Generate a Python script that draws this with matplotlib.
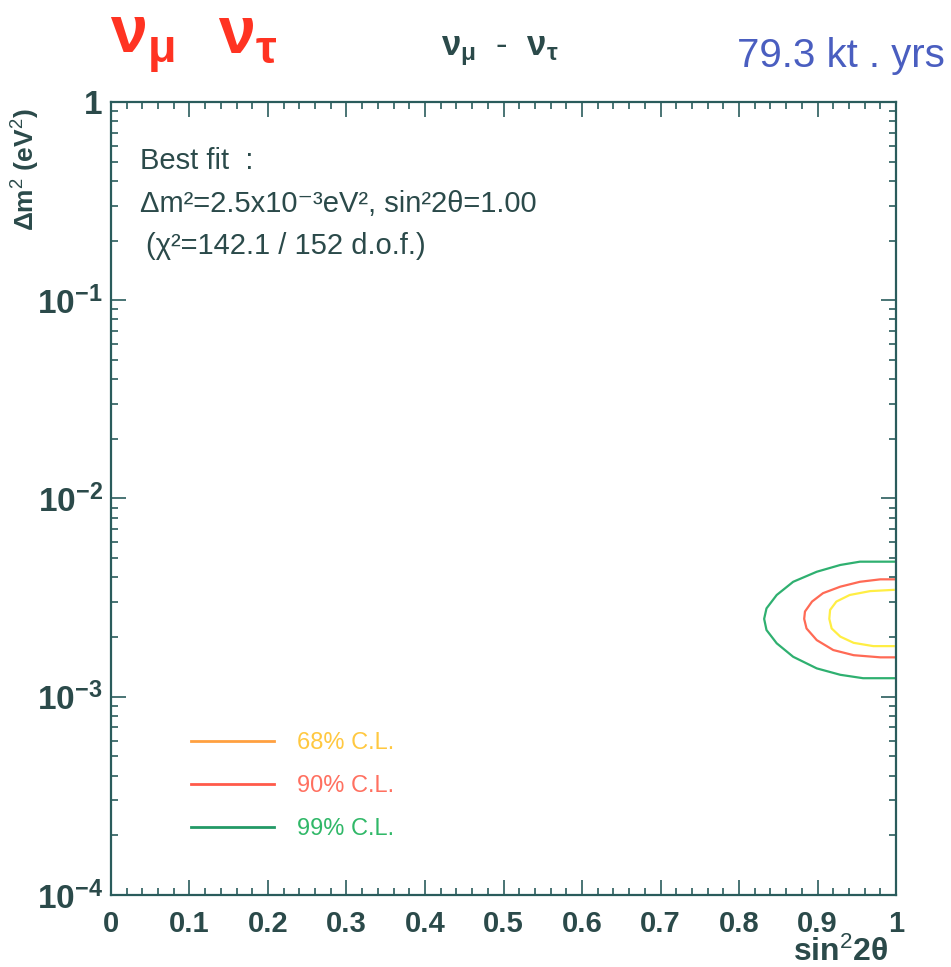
import math

import matplotlib
matplotlib.use("Agg")
import matplotlib.pyplot as plt
from matplotlib.lines import Line2D
from matplotlib.ticker import FixedLocator, FuncFormatter, LogLocator, MultipleLocator

plt.rcParams["font.family"] = ["Liberation Sans", "DejaVu Sans"]
plt.rcParams["mathtext.fontset"] = "custom"
plt.rcParams["mathtext.rm"] = "Liberation Sans"
plt.rcParams["mathtext.bf"] = "Liberation Sans:bold"
plt.rcParams["mathtext.it"] = "Liberation Sans"

# contour boundaries: (sin^2 2theta, dm^2 in eV^2)
cl99_s = [1.0, 0.954, 0.929, 0.899, 0.869, 0.848, 0.835, 0.832, 0.835, 0.848, 0.869, 0.899, 0.929, 0.958, 1.0]
cl99_dm = [4.80e-3, 4.80e-3, 4.62e-3, 4.27e-3, 3.80e-3, 3.26e-3, 2.79e-3, 2.47e-3,
           2.17e-3, 1.86e-3, 1.59e-3, 1.39e-3, 1.29e-3, 1.24e-3, 1.24e-3]
cl90_s = [1.0, 0.980, 0.954, 0.929, 0.907, 0.893, 0.884, 0.883, 0.886, 0.899, 0.920, 0.946, 0.980, 1.0]
cl90_dm = [3.91e-3, 3.91e-3, 3.80e-3, 3.59e-3, 3.33e-3, 3.02e-3, 2.69e-3, 2.47e-3,
           2.21e-3, 1.93e-3, 1.72e-3, 1.62e-3, 1.58e-3, 1.58e-3]
cl68_s = [0.997, 0.967, 0.941, 0.924, 0.916, 0.915, 0.918, 0.929, 0.946, 0.971, 0.997]
cl68_dm = [3.46e-3, 3.41e-3, 3.26e-3, 3.02e-3, 2.74e-3, 2.47e-3, 2.21e-3, 2.01e-3, 1.87e-3, 1.80e-3, 1.80e-3]

cl_labels = ["68% C.L.", "90% C.L.", "99% C.L."]
x_ticks = [0, 0.1, 0.2, 0.3, 0.4, 0.5, 0.6, 0.7, 0.8, 0.9, 1]

dark = "#2b4a4a"
spine = "#2a5c5c"


def ylab(v, pos):
    if abs(v - 1) < 1e-9:
        return "1"
    return r"$\mathbf{10^{%d}}$" % round(math.log10(v))


fig = plt.figure(figsize=(9.51, 9.67), dpi=100)
ax = fig.add_axes([0.1167, 0.0745, 0.8255, 0.82])

ax.plot(cl99_s, cl99_dm, color="#2fb070", lw=1.6)
ax.plot(cl90_s, cl90_dm, color="#ff6a55", lw=1.6)
ax.plot(cl68_s, cl68_dm, color="#ffee44", lw=1.6)

ax.set_xlim(0, 1)
ax.set_yscale("log")
ax.set_ylim(1e-4, 1)

ax.xaxis.set_major_locator(FixedLocator(x_ticks))
ax.xaxis.set_minor_locator(MultipleLocator(0.02))
ax.xaxis.set_major_formatter(FuncFormatter(lambda v, p: "%g" % v))
ax.yaxis.set_major_locator(LogLocator(base=10, numticks=10))
ax.yaxis.set_minor_locator(LogLocator(base=10, subs=range(2, 10), numticks=20))
ax.yaxis.set_major_formatter(FuncFormatter(ylab))

ax.tick_params(which="both", direction="in", top=True, right=True, color=spine, width=1.2,
               labelcolor=dark)
ax.tick_params(which="major", length=11)
ax.tick_params(which="minor", length=5)
ax.tick_params(axis="x", which="major", pad=11, labelsize=21)
ax.tick_params(axis="y", which="major", pad=6, labelsize=24)
for lab in ax.get_xticklabels() + ax.get_yticklabels():
    lab.set_fontweight("bold")
for s in ax.spines.values():
    s.set_color(spine)
    s.set_linewidth(1.6)

ax.set_xlabel(r"sin$^{2}$2θ", fontsize=23, fontweight="bold", color=dark, va="baseline")
ax.xaxis.set_label_coords(0.93, -0.083)
ax.set_ylabel(r"Δm$^{2}$ (eV$^{2}$)", fontsize=19, fontweight="bold", color=dark)
ax.yaxis.set_label_coords(-0.088, 0.915)

ax.text(0.037, 0.925, "Best fit  :", transform=ax.transAxes, fontsize=21, color=dark, va="center")
ax.text(0.037, 0.871, "Δm²=2.5x10⁻³eV², sin²2θ=1.00", transform=ax.transAxes, fontsize=21,
        color=dark, va="center")
ax.text(0.045, 0.818, "(χ²=142.1 / 152 d.o.f.)", transform=ax.transAxes, fontsize=21,
        color=dark, va="center")

handles = [Line2D([], [], color="#ffa040", lw=2),
           Line2D([], [], color="#ff5a4a", lw=2),
           Line2D([], [], color="#229966", lw=2)]
leg = ax.legend(handles, cl_labels, loc="upper left", bbox_to_anchor=(0.09, 0.217),
                frameon=False, fontsize=17, handlelength=3.5, handletextpad=1.0,
                labelspacing=0.88, borderaxespad=0)
for t, c in zip(leg.get_texts(), ["#ffc840", "#ff7060", "#30b868"]):
    t.set_color(c)

fig.text(0.116, 0.946, r"$\mathbf{ν_{μ}}$", fontsize=48, color="#ff3322", va="baseline")
fig.text(0.229, 0.946, r"$\mathbf{ν_{τ}}$", fontsize=48, color="#ff3322", va="baseline")
fig.text(0.526, 0.943, r"$\mathbf{ν_{μ}}$  -  $\mathbf{ν_{τ}}$", fontsize=25, color=dark,
         va="baseline", ha="center")
fig.text(0.994, 0.931, "79.3 kt . yrs", fontsize=29, color="#4a5ec0", va="baseline", ha="right")

fig.savefig("out.png", dpi=100)
